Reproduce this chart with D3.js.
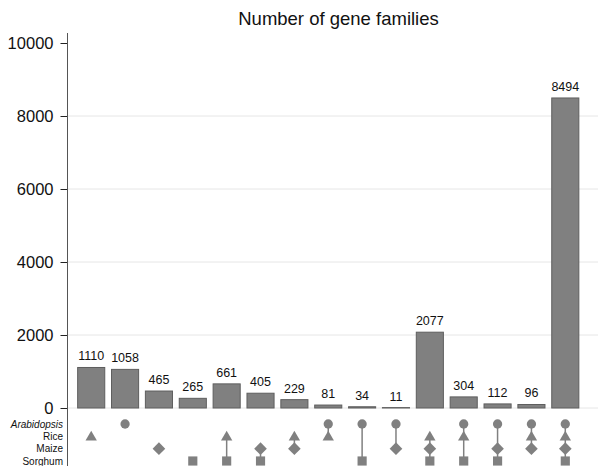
<!DOCTYPE html>
<html>
<head>
<meta charset="utf-8">
<script src="https://cdn.jsdelivr.net/npm/d3@7"></script>
<style>
  body { margin: 0; background: #fff; }
  text { font-family: "Liberation Sans", Arial, sans-serif; fill: #111; }
</style>
</head>
<body>
<div id="chart"></div>
<script>
// species rows, in order top to bottom
var species = ["Arabidopsis", "Rice", "Maize", "Sorghum"];
var shapes = ["circle", "triangle", "diamond", "square"];

// which species share each group of gene families
var groups = [
  ["Rice"], ["Arabidopsis"], ["Maize"], ["Sorghum"],
  ["Rice", "Sorghum"], ["Maize", "Sorghum"], ["Rice", "Maize"],
  ["Arabidopsis", "Rice"], ["Arabidopsis", "Sorghum"], ["Arabidopsis", "Maize"],
  ["Rice", "Maize", "Sorghum"], ["Arabidopsis", "Rice", "Sorghum"],
  ["Arabidopsis", "Maize", "Sorghum"], ["Arabidopsis", "Rice", "Maize"],
  ["Arabidopsis", "Rice", "Maize", "Sorghum"]
];
var counts = [1110, 1058, 465, 265, 661, 405, 229, 81, 34, 11, 2077, 304, 112, 96, 8494];
var yTicks = [0, 2000, 4000, 6000, 8000, 10000];

var width = 601, height = 466;
var plotLeft = 67.5, plotRight = 589, plotTop = 43, plotBottom = 408;

var svg = d3.select("#chart").append("svg")
  .attr("width", width)
  .attr("height", height);

var x = d3.scaleBand()
  .domain(d3.range(counts.length))
  .range([plotLeft, plotRight])
  .paddingInner(0.2)
  .paddingOuter(0.3);

var y = d3.scaleLinear()
  .domain([0, 10000])
  .range([plotBottom, plotTop]);

var row = d3.scalePoint()
  .domain(species)
  .range([424, 461]);

// title
svg.append("text")
  .attr("x", 338.5)
  .attr("y", 25)
  .attr("text-anchor", "middle")
  .style("font-size", "18.5px")
  .text("Number of gene families");

// grid lines
svg.append("g")
  .selectAll("line")
  .data(yTicks.filter(function(d) { return d < 10000; }))
  .enter().append("line")
  .attr("x1", plotLeft).attr("x2", 598)
  .attr("y1", function(d) { return y(d); })
  .attr("y2", function(d) { return y(d); })
  .attr("stroke", "#e6e6e6")
  .attr("stroke-width", 1);

// y axis
var yAxis = svg.append("g")
  .attr("transform", "translate(" + plotLeft + ",0)")
  .call(d3.axisLeft(y).tickValues(yTicks).tickSize(7).tickPadding(7).tickFormat(d3.format("d")));
yAxis.select(".domain").remove();
yAxis.selectAll(".tick line").attr("stroke", "#222");
yAxis.selectAll(".tick text").style("font-size", "16.5px").style("font-family", "Liberation Sans, Arial, sans-serif").attr("fill", "#111");

svg.append("line")
  .attr("x1", plotLeft).attr("x2", plotLeft)
  .attr("y1", 33).attr("y2", height)
  .attr("stroke", "#555")
  .attr("stroke-width", 1);

// bars
svg.append("g")
  .selectAll("rect")
  .data(counts)
  .enter().append("rect")
  .attr("x", function(d, i) { return x(i); })
  .attr("y", function(d) { return y(d); })
  .attr("width", x.bandwidth())
  .attr("height", function(d) { return y(0) - y(d); })
  .attr("fill", "#808080")
  .attr("stroke", "#5e5e5e")
  .attr("stroke-width", 1);

// value labels
svg.append("g")
  .selectAll("text")
  .data(counts)
  .enter().append("text")
  .attr("x", function(d, i) { return x(i) + x.bandwidth() / 2; })
  .attr("y", function(d) { return y(d) - 7; })
  .attr("text-anchor", "middle")
  .style("font-size", "12.5px")
  .text(function(d) { return d; });

// species labels
svg.append("g")
  .selectAll("text")
  .data(species)
  .enter().append("text")
  .attr("x", 63)
  .attr("y", function(d) { return row(d); })
  .attr("dy", "0.35em")
  .attr("text-anchor", "end")
  .style("font-size", "10px")
  .style("font-style", function(d) { return d === "Arabidopsis" ? "italic" : "normal"; })
  .text(function(d) { return d; });

// symbol matrix
var symbolType = {
  circle: d3.symbolCircle,
  triangle: d3.symbolTriangle,
  diamond: d3.symbolSquare,
  square: d3.symbolSquare
};
var symbolSize = { circle: 68, triangle: 56, diamond: 80, square: 84 };

var cols = svg.append("g")
  .selectAll("g")
  .data(groups)
  .enter().append("g")
  .attr("transform", function(d, i) { return "translate(" + (x(i) + x.bandwidth() / 2) + ",0)"; });

cols.filter(function(d) { return d.length > 1; })
  .append("line")
  .attr("y1", function(d) { return row(d[0]); })
  .attr("y2", function(d) { return row(d[d.length - 1]); })
  .attr("stroke", "#808080")
  .attr("stroke-width", 1.5);

cols.selectAll("path")
  .data(function(d) { return d; })
  .enter().append("path")
  .attr("transform", function(s) {
    var shp = shapes[species.indexOf(s)];
    var t = "translate(0," + row(s) + ")";
    if (shp === "diamond") t += " rotate(45)";
    if (shp === "triangle") t += " translate(0,1)";
    return t;
  })
  .attr("d", function(s) {
    var shp = shapes[species.indexOf(s)];
    return d3.symbol().type(symbolType[shp]).size(symbolSize[shp])();
  })
  .attr("fill", "#808080");
</script>
</body>
</html>
